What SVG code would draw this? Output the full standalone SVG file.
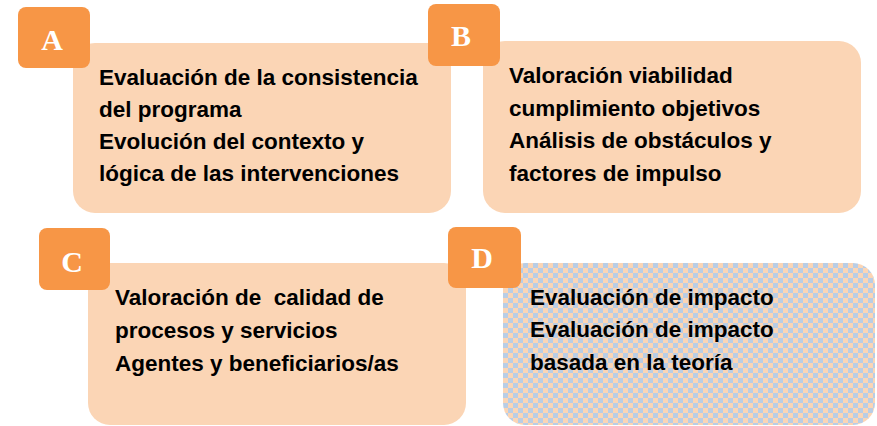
<svg xmlns="http://www.w3.org/2000/svg" width="877" height="426" viewBox="0 0 877 426">
<defs>
<pattern id="chk" x="503" y="263" width="10" height="10" patternUnits="userSpaceOnUse">
<rect width="10" height="10" fill="#FBD5B5"/>
<rect width="5" height="5" fill="#B9CDE5"/>
<rect x="5" y="5" width="5" height="5" fill="#B9CDE5"/>
</pattern>
</defs>
<style>
.main{fill:#FBD5B5}
.tag{fill:#F79646}
.tagtxt{font-family:"Liberation Serif","Times New Roman",serif;font-weight:bold;font-size:30px;fill:#FFFFFF;text-anchor:middle}
.body{font-family:"Liberation Sans",Arial,sans-serif;font-weight:bold;font-size:22.5px;fill:#000000}
</style>
<rect width="877" height="426" fill="#FFFFFF"/>
<g id="nodeA">
<rect class="main" x="73" y="43" width="378" height="170" rx="22"/>
<rect class="tag" x="18" y="7" width="72" height="61" rx="8"/>
<text class="tagtxt" x="52" y="50">A</text>
<text class="body" x="99" y="85">Evaluación de la consistencia</text>
<text class="body" x="99" y="117">del programa</text>
<text class="body" x="99" y="149">Evolución del contexto y</text>
<text class="body" x="99" y="181">lógica de las intervenciones</text>
</g>
<g id="nodeB">
<rect class="main" x="483" y="41" width="378" height="172" rx="22"/>
<rect class="tag" x="428" y="4" width="72" height="62" rx="8"/>
<text class="tagtxt" x="461" y="46">B</text>
<text class="body" x="509" y="83">Valoración viabilidad</text>
<text class="body" x="509" y="116">cumplimiento objetivos</text>
<text class="body" x="509" y="148">Análisis de obstáculos y</text>
<text class="body" x="509" y="181">factores de impulso</text>
</g>
<g id="nodeC">
<rect class="main" x="88" y="263" width="378" height="162" rx="22"/>
<rect class="tag" x="39" y="228" width="71" height="62" rx="8"/>
<text class="tagtxt" x="72" y="272">C</text>
<text class="body" x="115" y="305" xml:space="preserve">Valoración de  calidad de</text>
<text class="body" x="115" y="338">procesos y servicios</text>
<text class="body" x="115" y="371">Agentes y beneficiarios/as</text>
</g>
<g id="nodeD">
<rect x="503" y="263" width="372" height="162" rx="22" fill="url(#chk)"/>
<rect class="tag" x="448" y="227" width="73" height="61" rx="8"/>
<text class="tagtxt" x="482" y="268">D</text>
<text class="body" x="530" y="305">Evaluación de impacto</text>
<text class="body" x="530" y="337">Evaluación de impacto</text>
<text class="body" x="530" y="370">basada en la teoría</text>
</g>
<g id="connectors"></g>
</svg>
